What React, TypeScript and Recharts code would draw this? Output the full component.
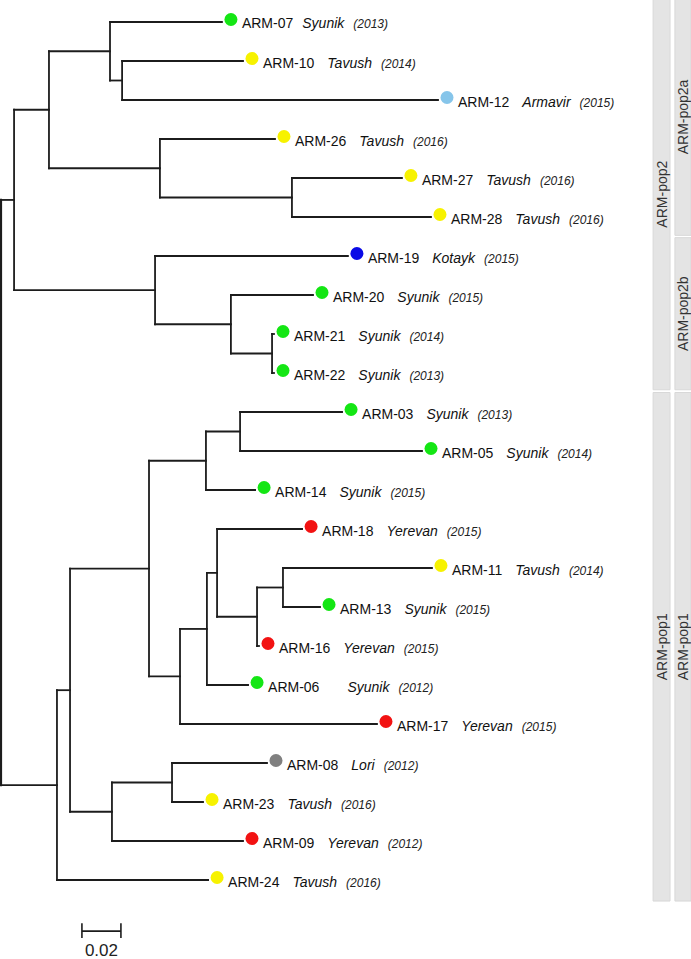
import { ScatterChart, Scatter, XAxis, YAxis, ReferenceLine, ReferenceArea } from 'recharts';

// tips, top to bottom
const tips = [
  'ARM-07', 'ARM-10', 'ARM-12', 'ARM-26', 'ARM-27', 'ARM-28', 'ARM-19', 'ARM-20',
  'ARM-21', 'ARM-22', 'ARM-03', 'ARM-05', 'ARM-14', 'ARM-18', 'ARM-11', 'ARM-13',
  'ARM-16', 'ARM-06', 'ARM-17', 'ARM-08', 'ARM-23', 'ARM-09', 'ARM-24',
];
const regions = [
  'Syunik', 'Tavush', 'Armavir', 'Tavush', 'Tavush', 'Tavush', 'Kotayk', 'Syunik',
  'Syunik', 'Syunik', 'Syunik', 'Syunik', 'Syunik', 'Yerevan', 'Tavush', 'Syunik',
  'Yerevan', 'Syunik', 'Yerevan', 'Lori', 'Tavush', 'Yerevan', 'Tavush',
];
const years = [
  2013, 2014, 2015, 2016, 2016, 2016, 2015, 2015,
  2014, 2013, 2013, 2014, 2015, 2015, 2014, 2015,
  2015, 2012, 2015, 2012, 2016, 2012, 2016,
];
const tipParent = [
  'C', 'D', 'D', 'E', 'F', 'F', 'G', 'H',
  'I', 'I', 'P', 'P', 'N', 'R', 'T', 'T',
  'S', 'Q', 'O', 'U', 'U', 'M', 'J',
];
// distance from root (substitutions per site)
const tipDepth = [
  0.1133, 0.1241, 0.2241, 0.1405, 0.2056, 0.2205, 0.1779, 0.16,
  0.14, 0.14, 0.1749, 0.2159, 0.1303, 0.1544, 0.221, 0.1636,
  0.1323, 0.1267, 0.1928, 0.1364, 0.1036, 0.1241, 0.1062,
];

const nodes = ['root', 'A', 'B', 'C', 'D', 'E', 'F', 'G', 'H', 'I', 'J', 'K', 'L', 'N', 'P', 'O', 'Q', 'R', 'S', 'T', 'M', 'U'];
const nodeParent = ['', 'root', 'A', 'B', 'C', 'B', 'E', 'A', 'G', 'H', 'root', 'J', 'K', 'L', 'N', 'L', 'O', 'Q', 'R', 'S', 'K', 'M'];
const nodeDepth = [0, 0.0067, 0.0246, 0.0559, 0.0621, 0.0815, 0.1492, 0.079, 0.1179, 0.139, 0.0287, 0.0354, 0.0759, 0.1051, 0.1226, 0.0918, 0.1056, 0.1108, 0.1313, 0.1446, 0.0569, 0.0877];

const regionColor: Record<string, string> = {
  Syunik: '#14e614',
  Tavush: '#f7f200',
  Armavir: '#86c5ea',
  Kotayk: '#0a0ae6',
  Yerevan: '#f21212',
  Lori: '#808080',
};

const strips = [
  { label: 'ARM-pop2', col: 0, from: -0.6, to: 9.43 },
  { label: 'ARM-pop1', col: 0, from: 9.5, to: 22.54 },
  { label: 'ARM-pop2a', col: 1, from: -0.6, to: 5.47 },
  { label: 'ARM-pop2b', col: 1, from: 5.53, to: 9.43 },
  { label: 'ARM-pop1', col: 1, from: 9.5, to: 22.54 },
];
const stripCols = [[0.3344, 0.3431], [0.3456, 0.3539]];

const scaleBar = 0.02;

// gap between name and region where it differs from the default
const nameGap: Record<string, number> = { 'ARM-07': 9, 'ARM-06': 28 };

const FONT = '"Liberation Sans", Arial, sans-serif';
const LINE = '#1c1c1c';

// --- layout ---
const depthOf: Record<string, number> = {};
const parentOf: Record<string, string> = {};
const yOf: Record<string, number> = {};
const kids: Record<string, string[]> = {};
nodes.forEach((n, i) => {
  depthOf[n] = nodeDepth[i];
  parentOf[n] = nodeParent[i];
  kids[n] = [];
});
tips.forEach((t, i) => {
  depthOf[t] = tipDepth[i];
  parentOf[t] = tipParent[i];
  yOf[t] = i;
});
[...nodes.slice(1), ...tips].forEach((n) => kids[parentOf[n]].push(n));

const placeY = (id: string): number => {
  if (yOf[id] !== undefined) return yOf[id];
  const ys = kids[id].map(placeY);
  yOf[id] = (Math.min(...ys) + Math.max(...ys)) / 2;
  return yOf[id];
};
placeY('root');

const horizontals = [...nodes.slice(1), ...tips].map((n) => ({
  id: n,
  x1: depthOf[parentOf[n]],
  x2: depthOf[n],
  y: yOf[n],
}));
const verticals = nodes.map((n) => {
  const ys = kids[n].map((k) => yOf[k]);
  return { id: n, x: depthOf[n], y1: Math.min(...ys), y2: Math.max(...ys) };
});

const tipData = tips.map((t, i) => ({ x: tipDepth[i], y: i, name: t, region: regions[i], year: years[i] }));

const barX0 = 0.0415;
const barY = 23.31;
const barLabel = [{ x: barX0 + scaleBar / 2, y: barY, label: String(scaleBar) }];

const TipMark = (props: any) => {
  const { cx, cy, payload } = props;
  const gap = nameGap[payload.name] ?? 13;
  return (
    <g>
      <circle cx={cx + 9} cy={cy - 2.5} r={6.5} fill={regionColor[payload.region]} />
      <text x={cx + 20} y={cy + 6.5} fontSize={14} fill="#111" fontFamily={FONT}>
        <tspan>{payload.name}</tspan>
        <tspan dx={gap} fontStyle="italic">{payload.region}</tspan>
        <tspan dx={9} fontStyle="italic" fontSize={12} fill="#222">({payload.year})</tspan>
      </text>
    </g>
  );
};

const BarText = (props: any) => {
  const { cx, cy, payload } = props;
  return (
    <text x={cx} y={cy + 25} textAnchor="middle" fontSize={17} fill="#222" fontFamily={FONT}>
      {payload.label}
    </text>
  );
};

const App = () => {
  return (
    <div style={{ position: 'absolute', left: 0, top: 0, background: '#fff' }}>
      <ScatterChart width={691} height={959} margin={{ top: 0, right: 0, bottom: 0, left: 0 }}>
        <XAxis type="number" dataKey="x" domain={[-0.000513, 0.353846]} allowDataOverflow hide />
        <YAxis type="number" dataKey="y" domain={[-0.5641, 24.0256]} allowDataOverflow reversed hide />

        {strips.map((s, i) => (
          <ReferenceArea
            key={'s' + i}
            x1={stripCols[s.col][0]}
            x2={stripCols[s.col][1]}
            y1={s.from}
            y2={s.to}
            fill="#e4e4e4"
            fillOpacity={1}
            stroke="#d8d8d8"
            ifOverflow="visible"
            label={(p: any) => {
              const vb = p.viewBox;
              return (
                <text
                  transform={`translate(${vb.x + vb.width / 2 + 5},${vb.y + vb.height / 2}) rotate(-90)`}
                  textAnchor="middle"
                  fontSize={14}
                  fill="#333"
                  fontFamily={FONT}
                >
                  {s.label}
                </text>
              );
            }}
          />
        ))}

        {verticals.map((v) => (
          <ReferenceLine
            key={'v' + v.id}
            segment={[{ x: v.x, y: v.y1 }, { x: v.x, y: v.y2 }]}
            stroke={LINE}
            strokeWidth={v.id === 'root' ? 2.2 : 1.8}
            strokeLinecap="square"
            ifOverflow="visible"
          />
        ))}
        {horizontals.map((h) => (
          <ReferenceLine
            key={'h' + h.id}
            segment={[{ x: h.x1, y: h.y }, { x: h.x2, y: h.y }]}
            stroke={LINE}
            strokeWidth={1.8}
            strokeLinecap="square"
            ifOverflow="visible"
          />
        ))}

        <ReferenceLine segment={[{ x: barX0, y: barY }, { x: barX0 + scaleBar, y: barY }]} stroke={LINE} strokeWidth={1.6} ifOverflow="visible" />
        <ReferenceLine segment={[{ x: barX0, y: barY - 0.2 }, { x: barX0, y: barY + 0.18 }]} stroke={LINE} strokeWidth={1.6} ifOverflow="visible" />
        <ReferenceLine segment={[{ x: barX0 + scaleBar, y: barY - 0.2 }, { x: barX0 + scaleBar, y: barY + 0.18 }]} stroke={LINE} strokeWidth={1.6} ifOverflow="visible" />

        <Scatter data={tipData} shape={(p: any) => <TipMark {...p} />} isAnimationActive={false} />
        <Scatter data={barLabel} shape={(p: any) => <BarText {...p} />} isAnimationActive={false} />
      </ScatterChart>
    </div>
  );
};

export default App;
